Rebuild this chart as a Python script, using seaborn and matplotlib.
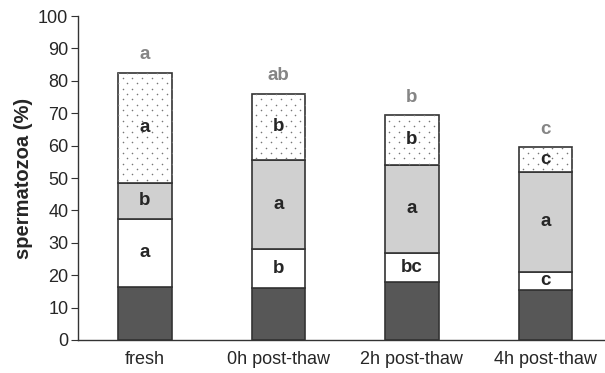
import matplotlib
matplotlib.use("Agg")
import matplotlib.pyplot as plt
import seaborn as sns
import numpy as np
import pandas as pd

# data
groups = ["fresh", "0h post-thaw", "2h post-thaw", "4h post-thaw"]
dark_vals = [16.5, 16.0, 18.0, 15.5]
white_vals = [21.0, 12.0, 9.0, 5.5]
gray_vals = [11.0, 27.5, 27.0, 31.0]
dot_vals = [34.0, 20.5, 15.5, 7.5]

white_letters = ["a", "b", "bc", "c"]
gray_letters = ["b", "a", "a", "a"]
dot_letters = ["a", "b", "b", "c"]
top_letters = ["a", "ab", "b", "c"]

sns.set_style("white")
plt.rcParams["font.family"] = ["Liberation Sans", "DejaVu Sans"]

df = pd.DataFrame({"group": groups, "dark": dark_vals, "white": white_vals,
                   "gray": gray_vals, "dot": dot_vals})

fig = plt.figure(figsize=(6.05, 3.73), dpi=100)
ax = fig.add_axes([0.129, 0.0885, 0.883, 0.8685])

layers = [("dark", "#575757"), ("white", "#ffffff"),
          ("gray", "#d0d0d0"), ("dot", "#ffffff")]
bottom = np.zeros(len(groups))
for col, colr in layers:
    sns.barplot(data=df, x="group", y=col, ax=ax, color=colr, width=0.4,
                bottom=bottom, edgecolor="#333333", linewidth=1.2,
                saturation=1)
    bottom = bottom + df[col].to_numpy()

# dotted texture on the top segments: a staggered grid clipped to each bar
dot_bars = ax.patches[-len(groups):]
gx = np.arange(-0.5, 3.5, 0.074)
gy = np.arange(0, 100, 1.65)
xx, yy = np.meshgrid(gx, gy)
xx = xx + (np.arange(len(gy))[:, None] % 2) * 0.037
for p in dot_bars:
    sc = ax.scatter(xx.ravel(), yy.ravel(), s=1.3, color="#777777",
                    linewidths=0, zorder=p.get_zorder() + 0.1)
    sc.set_clip_path(p)

# letters inside the segments
b0 = np.array(dark_vals)
b1 = b0 + np.array(white_vals)
b2 = b1 + np.array(gray_vals)
b3 = b2 + np.array(dot_vals)
for i in range(len(groups)):
    ax.text(i, (b0[i] + b1[i]) / 2, white_letters[i], ha="center", va="center",
            fontsize=13.5, fontweight="bold", zorder=5)
    ax.text(i, (b1[i] + b2[i]) / 2, gray_letters[i], ha="center", va="center",
            fontsize=13.5, fontweight="bold", zorder=5)
    ax.text(i, (b2[i] + b3[i]) / 2, dot_letters[i], ha="center", va="center",
            fontsize=13.5, fontweight="bold", zorder=5)
    ax.text(i, b3[i] + 5.5, top_letters[i], ha="center", va="center",
            fontsize=13.5, fontweight="bold", color="#858585")

ax.set_xlim(-0.5, 3.5)
ax.set_ylim(0, 100)
ax.set_yticks(range(0, 101, 10))
ax.set_xticks([0.5, 1.5, 2.5], minor=True)
ax.tick_params(axis="x", which="major", length=0, labelsize=13, pad=8)
ax.tick_params(axis="x", which="minor", length=5, color="#333333", direction="out")
ax.tick_params(axis="y", length=5, color="#333333", direction="out", labelsize=13, pad=2, left=True)
ax.set_xlabel("")
ax.set_ylabel("spermatozoa (%)", fontsize=14.5, fontweight="bold", labelpad=4)
for s in ["top", "right"]:
    ax.spines[s].set_visible(False)
for s in ["left", "bottom"]:
    ax.spines[s].set_color("#333333")
    ax.spines[s].set_linewidth(1.0)

fig.savefig("out.png", dpi=100)
